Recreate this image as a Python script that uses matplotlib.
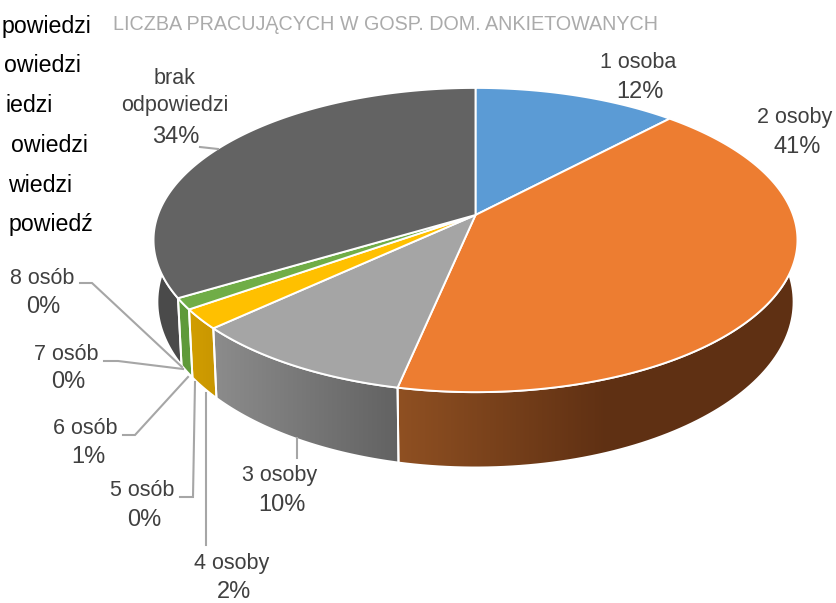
import numpy as np
import matplotlib
matplotlib.use("Agg")
import matplotlib.pyplot as plt
from matplotlib.patches import Polygon

plt.rcParams['font.family'] = ['Liberation Sans', 'DejaVu Sans']

# Data (percent)
categories = ["1 osoba", "2 osoby", "3 osoby", "4 osoby", "5 osób", "6 osób", "7 osób", "8 osób", "brak\nodpowiedzi"]
values = [12.0, 41.3, 9.8, 2.1, 0.0, 1.2, 0.0, 0.0, 33.6]
pct_labels = ["12%", "41%", "10%", "2%", "0%", "1%", "0%", "0%", "34%"]
top_colors = ["#5B9BD5", "#ED7D31", "#A5A5A5", "#FFC000", "#4472C4", "#70AD47", "#255E91", "#9E480E", "#636363"]
side_left = ["#5B9BD5", "#8F5022", "#8C8C8C", "#D29E00", "#4472C4", "#5F9A3A", "#255E91", "#9E480E", "#4A4A4A"]
side_right = ["#5B9BD5", "#5F3013", "#626262", "#C89600", "#4472C4", "#5F9A3A", "#255E91", "#9E480E", "#565656"]
title = "LICZBA PRACUJĄCYCH W GOSP. DOM. ANKIETOWANYCH"
legend_lines = ["powiedzi", "owiedzi", "iedzi", "owiedzi", "wiedzi", "powiedź"]

# Projection of the tilted pie
CX, CY = 475.5, 215.0
BX, AY, K = 317.6, 148.0, 0.1645
S_X, S_Y, DROP = 0.988, 1.089, 59.6


def top_xy(theta):
    u, v = np.sin(theta), np.cos(theta)
    d = 1 + K * v
    return CX + BX * u / d, CY - AY * v / d


def bottom_xy(theta):
    u, v = np.sin(theta), np.cos(theta)
    d = 1 + K * v
    return CX + S_X * BX * u / d, CY + DROP - S_Y * AY * v / d


fig = plt.figure(figsize=(8.37, 6.03), dpi=100)
ax = fig.add_axes([0, 0, 1, 1])
ax.set_axis_off()

edges = np.cumsum([0.0] + values) / sum(values) * 2 * np.pi

# sides
for i, val in enumerate(values):
    if val <= 0:
        continue
    th = np.linspace(edges[i], edges[i + 1], 120)
    tx, ty = top_xy(th)
    bx, by = bottom_xy(th)
    xs = np.r_[tx, bx[::-1]]
    ys = np.r_[ty, by[::-1]]
    poly = Polygon(np.c_[xs, ys], closed=True, facecolor=side_right[i], edgecolor='none', zorder=2)
    ax.add_patch(poly)
    c0 = np.array(matplotlib.colors.to_rgb(side_left[i]))
    c1 = np.array(matplotlib.colors.to_rgb(side_right[i]))
    f = np.linspace(0, 1, 256)[None, :, None]
    grad = c0[None, None, :] * (1 - f) + c1[None, None, :] * f
    x0, x1 = xs.min(), xs.max()
    if i == 1:
        x0, x1 = top_xy(edges[2])[0], top_xy(edges[2])[0] + 210
    im = ax.imshow(grad, extent=(x0, x1, ys.max(), ys.min()), aspect='auto', zorder=2.1)
    im.set_clip_path(poly)
    ax.add_patch(Polygon(np.c_[xs, ys], closed=True, fill=False, edgecolor='white', linewidth=1.4, zorder=2.2))

# top faces
for i, val in enumerate(values):
    if val <= 0:
        continue
    th = np.linspace(edges[i], edges[i + 1], 160)
    tx, ty = top_xy(th)
    xs = np.r_[CX, tx]
    ys = np.r_[CY, ty]
    ax.add_patch(Polygon(np.c_[xs, ys], closed=True, facecolor=top_colors[i], edgecolor='white', linewidth=1.4, zorder=3))

# leader lines
leaders = [
    [(200, 147), (218, 149)],
    [(80, 283), (92, 283), (182, 367)],
    [(104, 361), (118, 361), (183, 369)],
    [(123, 435), (135, 435), (188, 377)],
    [(180, 497), (193, 497), (195, 382)],
    [(206, 545), (206, 393)],
    [(297, 438), (297, 458)],
]
for pts in leaders:
    p = np.array(pts)
    ax.plot(p[:, 0], p[:, 1], color='#a6a6a6', lw=1.5, zorder=4, solid_joinstyle='miter')

# data labels
LBL = '#404040'
FS = 15.5
name_pos = [(638, 63), (795, 118), (280, 476), (232, 564), (142, 491), (85, 428), (66, 354), (42, 278), (175, 92)]
pct_pos = [(640, 92), (797, 147), (282, 505), (234, 592), (144, 520), (88, 457), (68, 382), (43, 307), (176, 137)]
for name, pct, np_, pp in zip(categories, pct_labels, name_pos, pct_pos):
    ax.text(np_[0], np_[1], name, ha='center', va='center', fontsize=FS, color=LBL,
            linespacing=1.35, zorder=5)
    ax.text(pp[0], pp[1], pct, ha='center', va='center', fontsize=FS + 1.5, color=LBL, zorder=5)

# title
ax.text(113, 25, title, ha='left', va='center', fontsize=14.2, color='#ababab', zorder=5)

# text at the left edge, as far as the reference shows it
legend_right = [91, 81, 53, 88, 72, 93]
legend_y = [27, 65, 106, 145, 186, 225]
for t, xr, y in zip(legend_lines, legend_right, legend_y):
    ax.text(xr, y, t, ha='right', va='center', fontsize=16.7, color='black', zorder=5)

ax.set_xlim(0, 837)
ax.set_ylim(603, 0)
fig.savefig('out.png', dpi=100, facecolor='white')
